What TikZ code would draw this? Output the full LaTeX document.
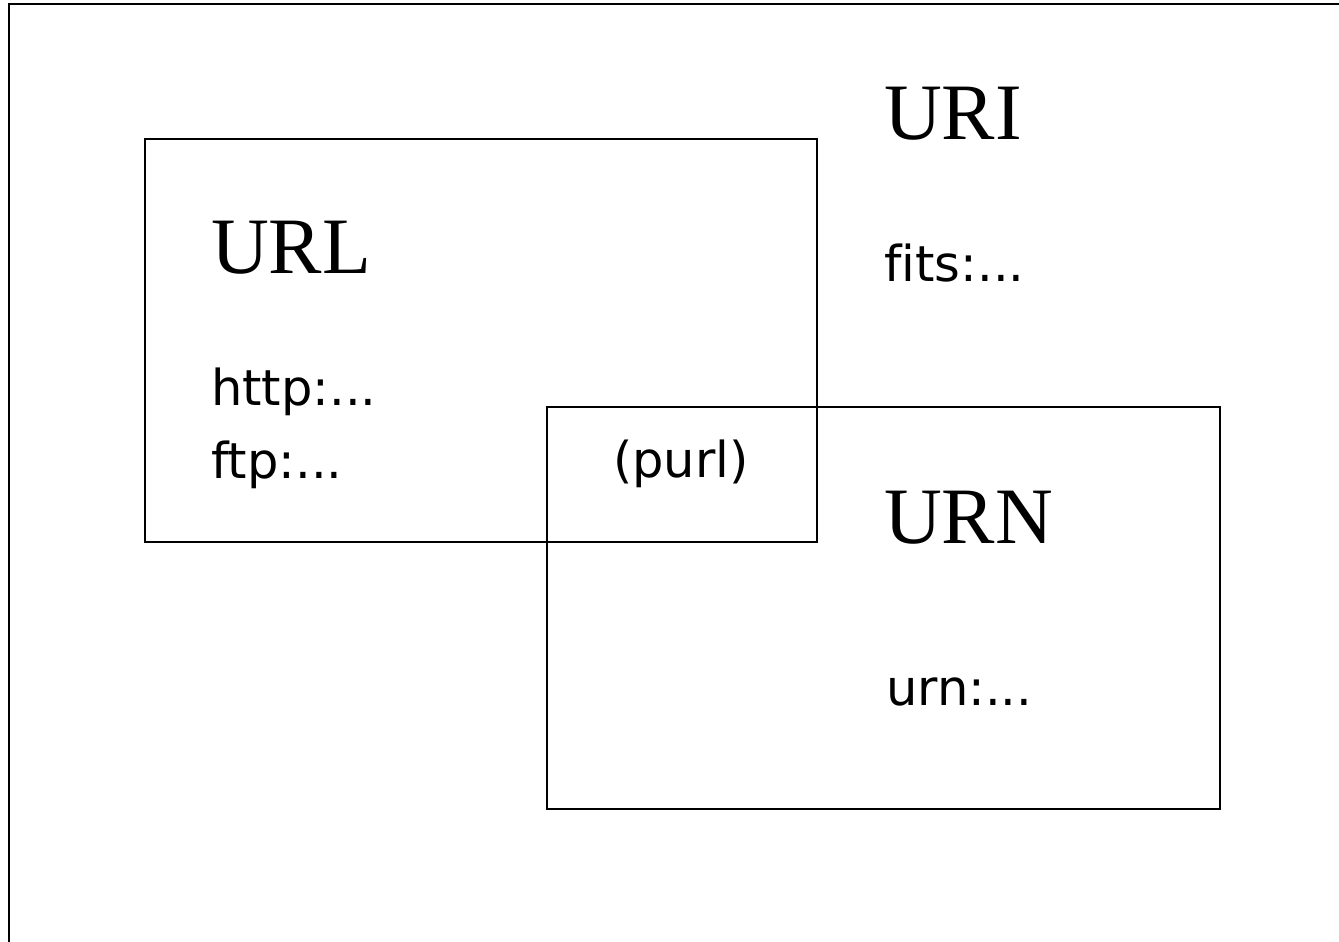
\documentclass[tikz,border=0pt]{standalone}
\usepackage{fontspec}
\setmainfont{Liberation Serif}
\setsansfont[Ligatures=NoCommon]{DejaVu Sans}
\begin{document}
\begin{tikzpicture}[x=1pt,y=-1pt,
  big/.style={anchor=base west,inner sep=0pt,font=\fontsize{80}{82}\selectfont\rmfamily},
  small/.style={anchor=base west,inner sep=0pt,font=\fontsize{49.5}{51}\selectfont\sffamily},
  setbox/.style={draw=black,line width=1.3pt}]
\useasboundingbox (0,0) rectangle (1339,942);
\draw[line width=2.2pt] (9,942) -- (9,4) -- (1339,4);
\draw[setbox] (145,139) rectangle (817,542);
\draw[setbox] (547,407) rectangle (1220,809);
\node[big] (uri) at (884,139) {URI};
\node[small] (fits) at (884,281) {fits:...};
\node[big] (url) at (211,273) {URL};
\node[small] (http) at (211,405) {http:...};
\node[small] (ftp) at (211,478) {ftp:...};
\node[small] (purl) at (613,477) {(purl)};
\node[big] (urn) at (884,543) {URN};
\node[small] (urnx) at (886,705) {urn:...};
\end{tikzpicture}
\end{document}
